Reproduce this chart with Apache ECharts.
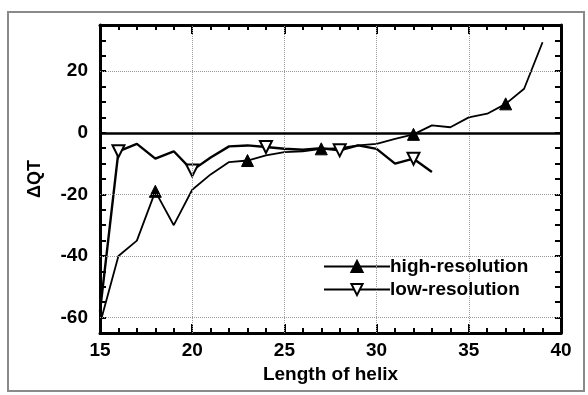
<!DOCTYPE html>
<html>
<head>
<meta charset="utf-8">
<script src="https://cdn.jsdelivr.net/npm/echarts@6/dist/echarts.min.js"></script>
<style>
html,body{margin:0;padding:0;background:#fff;}
#chart{width:588px;height:395px;}
</style>
</head>
<body>
<div id="chart"></div>
<script>
const helixHigh = [15,16,17,18,19,20,21,22,23,24,25,26,27,28,29,30,31,32,33,34,35,36,37,38,39];
const highRes =   [-62,-40,-35,-19,-30,-18.5,-13.5,-9.5,-9,-7.3,-6.3,-6,-5.2,-5,-4.1,-3.6,-2,-0.5,2.4,1.8,5,6.2,9.4,14.3,29.4];
const highMarks = [18,23,27,32,37];
const helixLow = [15,16,17,18,19,20,21,22,23,24,25,26,27,28,29,30,31,32,33];
const lowRes =   [-58,-6,-3.6,-8.4,-6,-12.2,-8,-4.4,-4.1,-4.6,-5.2,-5.5,-5,-5.7,-4.1,-5.2,-10,-8.4,-12.7];
const lowMarks = [16,20,24,28,32];
const yLabelStep = 20;
const xGrid = [20,25,30,35];
const yGrid = [-60,-40,-20,20];

const FONT = 'Liberation Sans';
const txt = {color:'#000', fontFamily:FONT, fontWeight:'bold', fontSize:19};

function pts(xs, ys, marks){
  return xs.map((x,i)=> marks.indexOf(x) >= 0 ? {value:[x,ys[i]]} : {value:[x,ys[i]], symbol:'none'});
}

const chart = echarts.init(document.getElementById('chart'), null, {renderer:'canvas'});

function xAxisOpt(grid, pos, labels){
  return {
    type:'value', gridIndex:grid, position:pos, min:15, max:40, interval:5,
    axisLine:{show:true, onZero:false, lineStyle:{color:'#000', width:3}},
    axisTick:{show:true, inside:true, length:9, lineStyle:{color:'#000', width:2}},
    minorTick:{show:true, splitNumber:5, length:5, lineStyle:{color:'#000', width:2}},
    axisLabel: labels ? Object.assign({show:true, margin:8}, txt) : {show:false},
    splitLine:{show:false}
  };
}
function yAxisOpt(grid, pos, labels){
  return {
    type:'value', gridIndex:grid, position:pos, min:-65, max:35, interval:5,
    axisLine:{show:true, onZero:false, lineStyle:{color:'#000', width:3}},
    axisTick:{show:true, inside:true, length:6, lineStyle:{color:'#000', width:2}},
    axisLabel: labels ? Object.assign({show:true, margin:12,
      formatter:v => (v % yLabelStep === 0 ? String(v) : '')}, txt) : {show:false},
    splitLine:{show:false}
  };
}

const gridLines = [];
yGrid.forEach(v=>gridLines.push({yAxis:v, lineStyle:{type:'dotted', color:'#9a9a9a', width:1}}));
xGrid.forEach(v=>gridLines.push({xAxis:v, lineStyle:{type:'dotted', color:'#9a9a9a', width:1}}));
gridLines.push({yAxis:0, lineStyle:{type:'solid', color:'#000', width:2.5}});

const xa0 = xAxisOpt(0, 'bottom', true);
xa0.name = 'Length of helix'; xa0.nameLocation = 'middle'; xa0.nameGap = 24; xa0.nameTextStyle = txt;
const ya0 = yAxisOpt(0, 'left', true);
ya0.name = 'ΔQT'; ya0.nameLocation = 'middle'; ya0.nameGap = 56; ya0.nameRotate = 90;
ya0.nameTextStyle = Object.assign({}, txt, {fontSize:18});

chart.setOption({
  animation:false,
  backgroundColor:'#fff',
  grid:[{left:100, right:27, top:25, bottom:62}, {left:100, right:27, top:25, bottom:62}],
  graphic:[{type:'rect', shape:{x:8, y:12, width:576, height:379}, style:{fill:'none', stroke:'#8a8a8a', lineWidth:2}, silent:true}],
  xAxis:[xa0, xAxisOpt(1, 'top', false)],
  yAxis:[ya0, yAxisOpt(1, 'right', false)],
  legend:{
    orient:'vertical', left:318, top:252, itemWidth:66, itemHeight:14, itemGap:4,
    textStyle:Object.assign({}, txt, {padding:[0,0,0,-5]}),
    data:['high-resolution','low-resolution']
  },
  series:[
    {name:'high-resolution', type:'line', xAxisIndex:0, yAxisIndex:0,
     data:pts(helixHigh, highRes, highMarks), showAllSymbol:true,
     symbol:'triangle', symbolSize:12,
     itemStyle:{color:'#000', borderColor:'#000', borderWidth:1},
     lineStyle:{color:'#000', width:1.8},
     markLine:{silent:true, symbol:'none', label:{show:false}, animation:false, data:gridLines},
     z:3},
    {name:'low-resolution', type:'line', xAxisIndex:0, yAxisIndex:0,
     data:pts(helixLow, lowRes, lowMarks), showAllSymbol:true,
     symbol:'triangle', symbolRotate:180, symbolSize:12,
     itemStyle:{color:'#fff', borderColor:'#000', borderWidth:2},
     lineStyle:{color:'#000', width:2.4},
     z:4},
    {type:'line', xAxisIndex:1, yAxisIndex:1, data:[], symbol:'none', silent:true}
  ]
});
</script>
</body>
</html>
